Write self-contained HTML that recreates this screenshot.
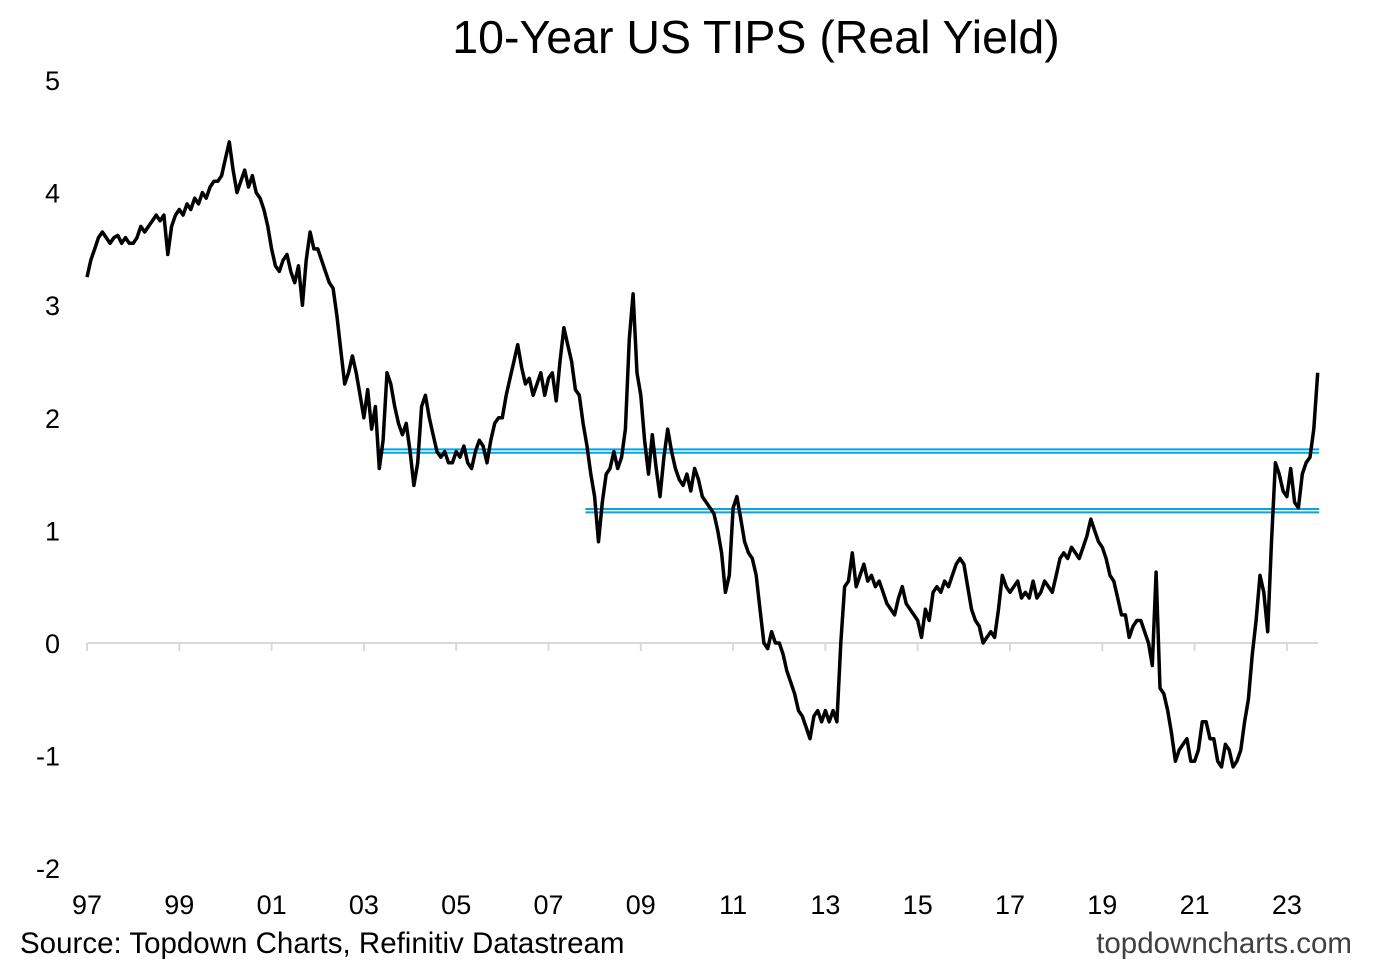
<!DOCTYPE html>
<html><head><meta charset="utf-8"><style>
body{margin:0;background:#fff;}
svg{display:block;font-family:"Liberation Sans",Arial,sans-serif;}
</style></head><body>
<svg id="chart" width="1377" height="967">
<text x="756" y="53" font-size="46.5" text-anchor="middle" fill="#000">10-Year US TIPS (Real Yield)</text>
<g id="yaxis"></g>
<g id="xaxis"></g>
<g id="series"></g>
<text x="20" y="953" font-size="29.5" fill="#000">Source: Topdown Charts, Refinitiv Datastream</text>
<text x="1352" y="953" font-size="29.5" fill="#404040" text-anchor="end">topdowncharts.com</text>
</svg>
<script>
const yTicks=[5,4,3,2,1,0,-1,-2];
const xTickLabels=["97","99","01","03","05","07","09","11","13","15","17","19","21","23"];
const xTickYears=[1997,1999,2001,2003,2005,2007,2009,2011,2013,2015,2017,2019,2021,2023];
const startYear=1997;
const realYield=[
3.25,3.4,3.5,3.6,3.65,3.6,3.55,3.6,3.62,3.55,3.6,3.55,
3.55,3.6,3.7,3.65,3.7,3.75,3.8,3.75,3.8,3.45,3.7,3.8,
3.85,3.8,3.9,3.85,3.95,3.9,4.0,3.95,4.05,4.1,4.1,4.15,
4.3,4.45,4.2,4.0,4.1,4.2,4.05,4.15,4.0,3.95,3.85,3.7,
3.5,3.35,3.3,3.4,3.45,3.3,3.2,3.35,3.0,3.4,3.65,3.5,
3.5,3.4,3.3,3.2,3.15,2.9,2.6,2.3,2.4,2.55,2.4,2.2,
2.0,2.25,1.9,2.1,1.55,1.8,2.4,2.3,2.1,1.95,1.85,1.95,
1.7,1.4,1.6,2.1,2.2,2.0,1.85,1.7,1.65,1.7,1.6,1.6,
1.7,1.65,1.75,1.6,1.55,1.7,1.8,1.75,1.6,1.8,1.95,2.0,
2.0,2.2,2.35,2.5,2.65,2.45,2.3,2.35,2.2,2.3,2.4,2.2,
2.35,2.4,2.15,2.5,2.8,2.65,2.5,2.25,2.2,1.95,1.75,1.5,
1.3,0.9,1.25,1.5,1.55,1.7,1.55,1.65,1.9,2.7,3.1,2.4,
2.2,1.8,1.5,1.85,1.55,1.3,1.65,1.9,1.7,1.55,1.45,1.4,
1.5,1.35,1.55,1.45,1.3,1.25,1.2,1.15,1.0,0.8,0.45,0.6,
1.2,1.3,1.1,0.9,0.8,0.75,0.6,0.3,0.0,-0.05,0.1,0.0,
0.0,-0.1,-0.25,-0.35,-0.45,-0.6,-0.65,-0.75,-0.85,-0.65,-0.6,-0.7,
-0.6,-0.7,-0.6,-0.7,0.0,0.5,0.55,0.8,0.5,0.6,0.7,0.55,
0.6,0.5,0.55,0.45,0.35,0.3,0.25,0.4,0.5,0.35,0.3,0.25,
0.2,0.05,0.3,0.2,0.45,0.5,0.45,0.55,0.5,0.6,0.7,0.75,
0.7,0.5,0.3,0.2,0.15,0.0,0.05,0.1,0.05,0.3,0.6,0.5,
0.45,0.5,0.55,0.4,0.45,0.4,0.55,0.4,0.45,0.55,0.5,0.45,
0.6,0.75,0.8,0.75,0.85,0.8,0.75,0.85,0.95,1.1,1.0,0.9,
0.85,0.75,0.6,0.55,0.4,0.25,0.25,0.05,0.15,0.2,0.2,0.1,
0.0,-0.2,0.63,-0.4,-0.45,-0.6,-0.8,-1.05,-0.95,-0.9,-0.85,-1.05,
-1.05,-0.95,-0.7,-0.7,-0.85,-0.85,-1.05,-1.1,-0.9,-0.95,-1.1,-1.05,
-0.95,-0.7,-0.5,-0.1,0.2,0.6,0.45,0.1,0.9,1.6,1.5,1.35,
1.3,1.55,1.25,1.2,1.5,1.6,1.65,1.9,2.4
];
const levelUpper=[1.72,1.69];
const levelUpperStart=[2003.35,2003.35];
const levelLower=[1.19,1.16];
const levelLowerStart=[2007.8,2007.8];
const levelEnd=2023.7;

const NS="http://www.w3.org/2000/svg";
const y=v=>643-(v*112.6);
const x=yr=>87+(yr-1997)*46.15;
const yax=document.getElementById('yaxis'),xax=document.getElementById('xaxis'),ser=document.getElementById('series');
function mk(tag,attrs,parent){const e=document.createElementNS(NS,tag);for(const k in attrs)e.setAttribute(k,attrs[k]);parent.appendChild(e);return e;}
yTicks.forEach(t=>{const e=mk('text',{x:60,y:y(t)+10,'font-size':27,'text-anchor':'end',fill:'#000'},yax);e.textContent=t;

});
const ax=mk('line',{x1:87,x2:1318,y1:y(0),y2:y(0),stroke:'#d9d9d9','stroke-width':2},xax);


xTickYears.forEach((yr,i)=>{const tk=mk('line',{x1:x(yr),x2:x(yr),y1:y(0),y2:y(0)+8,stroke:'#d9d9d9','stroke-width':2},xax);


const e=mk('text',{x:x(yr),y:914,'font-size':27,'text-anchor':'middle',fill:'#000'},xax);e.textContent=xTickLabels[i];

});
function lvl(vals,starts){vals.forEach((v,i)=>{const l=mk('line',{x1:x(starts[i]),x2:x(levelEnd),y1:y(v),y2:y(v),stroke:'#00a6e6','stroke-width':2},ser);

});}
lvl(levelUpper,levelUpperStart);lvl(levelLower,levelLowerStart);
const d=realYield.map((v,i)=>(i?'L':'M')+x(startYear+i/12).toFixed(1)+','+y(v).toFixed(1)).join('');
const p=mk('path',{d:d,fill:'none',stroke:'#000','stroke-width':3.5,'stroke-linejoin':'round'},ser);


</script>
</body></html>
